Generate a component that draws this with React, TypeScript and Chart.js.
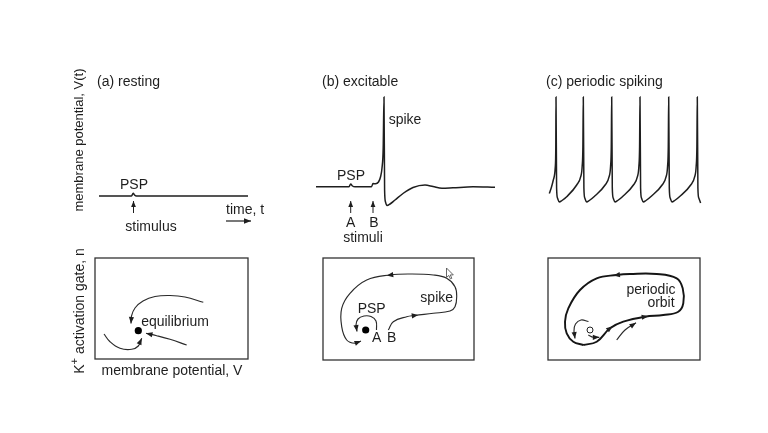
import React, { useEffect, useRef } from 'react';
import { Chart, registerables } from 'chart.js';

Chart.register(...registerables);

const W = 768;
const H = 433;
const FONT = '"Liberation Sans", Arial, Helvetica, sans-serif';
const INK = '#1e1e1e';

// ---------- top row: membrane potential traces (time in ms-like units, V in mV-like units)
const restT = [0, 32.5, 34.2, 35.5, 37.5, 149];
const restV = [-70, -70, -67.3, -69, -70, -70];
const restStimT = [34.5, 34.5];
const restStimV = [-87, -75];
const timeArrowT = [127, 152];
const timeArrowV = [-95, -95];

const exciteT = [0, 33, 34.7, 36.5, 39, 55.5, 57, 59.5, 62.5, 64.5, 66, 67.2, 68, 68.6, 69.5, 71, 74, 79, 87, 97, 109, 117, 126, 137, 157, 179];
const exciteV = [-60.7, -60.7, -58, -60, -60.7, -60.7, -57.5, -57.8, -56, -51, -42, -22, 29, -64, -76, -79.5, -78, -74, -67.5, -61.5, -59, -60.5, -62.3, -61.8, -60.8, -61.3];
const stimAT = [34.7, 34.7];
const stimBT = [57, 57];
const stimV = [-87, -75];

const spikeT = [
  1.3, 3.5, 5.3, 7.3, 7.8, 8,
  8.6, 9.5, 11.3, 14, 18.7, 28.7, 32.7, 34.2, 34.9, 35.3,
  35.9, 36.8, 38.6, 41.3, 46, 57.1, 61.1, 62.6, 63.3, 63.7,
  64.3, 65.2, 67, 69.7, 74.4, 85.4, 89.4, 90.9, 91.6, 92,
  92.6, 93.5, 95.3, 98, 102.7, 114.1, 118.1, 119.6, 120.3, 120.7,
  121.3, 122.2, 124, 126.7, 131.4, 142.7, 146.7, 148.2, 148.9, 149.3,
  149.9, 150.8, 152.6,
];
const spikeV = [
  -67.5, -61, -54, -40.7, -20, 29,
  -62, -72, -76, -74.5, -70.7, -59, -50.7, -40, -20, 29,
  -62, -72, -76, -74.5, -70.7, -59, -50.7, -40, -20, 29,
  -62, -72, -76, -74.5, -70.7, -59, -50.7, -40, -20, 29,
  -62, -72, -76, -74.5, -70.7, -59, -50.7, -40, -20, 29,
  -62, -72, -76, -74.5, -70.7, -59, -50.7, -40, -20, 29,
  -62, -72, -77,
];

// ---------- bottom row: phase planes (V horizontal, n vertical)
const eqPointV = [43.3];
const eqPointN = [28.3];
const eqUpperV = [108.3, 90, 75, 60, 48, 40, 36.5, 36];
const eqUpperN = [56.7, 62, 63.5, 62.5, 58, 51, 43, 35.5];
const eqRightV = [91.7, 75, 61.7, 51];
const eqRightN = [14, 19.7, 23.3, 25.7];
const eqLeftV = [9, 15, 25, 36.7, 43.3, 46.7];
const eqLeftN = [25, 17.3, 10.7, 9.7, 13, 20.7];

const exPointV = [42.7];
const exPointN = [30];
const spikeLoopV = [65.3, 70.3, 83.7, 92, 110.3, 127, 132, 133.7, 132, 123.7, 110.3, 87, 67, 43.7, 27, 18.7, 18.7, 23.7, 32, 38];
const spikeLoopN = [30, 38.3, 43.3, 44.5, 46.7, 49, 53.3, 63.3, 73.3, 81.7, 85, 86, 85, 80, 66.7, 51.7, 33.3, 20, 16.7, 19];
const pspLoopV = [53.5, 53, 48, 41, 35, 33, 34];
const pspLoopN = [30, 39, 43.5, 44, 41, 35, 28.5];

const unstableV = [42];
const unstableN = [30];
const orbitV = [35.3, 48.7, 62, 75.3, 97, 115.3, 130.3, 135.3, 134.7, 128.7, 108.7, 82, 68.7, 48.7, 32, 20.3, 17, 18.7, 25.3, 35.3];
const orbitN = [15, 18.3, 31.7, 38.3, 43.3, 45, 48.3, 56.7, 71.7, 81.7, 86, 86, 85, 81.7, 70, 51.7, 38.3, 26.7, 18.3, 15];
const smallArcV = [40.5, 33, 27.5, 26, 27];
const smallArcN = [38.5, 40, 36, 29, 21.5];
const outArrowV = [40.3, 45.3, 51.3];
const outArrowN = [25, 22.7, 22.7];
const lowerRightV = [68.7, 77, 88];
const lowerRightN = [20, 30, 37.3];

// ---------- helpers
const pts = (xs: number[], ys: number[]) => xs.map((x, i) => ({ x, y: ys[i] }));

const trace = (xs: number[], ys: number[], o: any = {}) => ({
  data: pts(xs, ys),
  borderColor: INK,
  borderWidth: 1.5,
  pointRadius: 0,
  cubicInterpolationMode: 'monotone',
  fill: false,
  clip: false,
  ...o,
});
const curve = (xs: number[], ys: number[], o: any = {}) => ({
  data: pts(xs, ys),
  borderColor: '#2a2a2a',
  borderWidth: 1.15,
  pointRadius: 0,
  tension: 0.4,
  fill: false,
  clip: false,
  ...o,
});
const straight = (xs: number[], ys: number[], o: any = {}) => ({
  data: pts(xs, ys),
  borderColor: INK,
  borderWidth: 1,
  pointRadius: 0,
  tension: 0,
  fill: false,
  clip: false,
  ...o,
});
const dot = (xs: number[], ys: number[], o: any = {}) => ({
  data: pts(xs, ys),
  showLine: false,
  pointRadius: 3.6,
  pointBackgroundColor: '#000',
  pointBorderColor: '#000',
  pointBorderWidth: 0,
  clip: false,
  ...o,
});

type Head = { ds: number; i: number; mid?: boolean; len?: number; half?: number };
type Txt = { t: string; x: number; y: number; align?: CanvasTextAlign; rot?: boolean; sup?: [string, string, string]; size?: number };
type Spec = {
  pad: { left: number; right: number; top: number; bottom: number };
  x: [number, number];
  y: [number, number];
  datasets: any[];
  heads?: Head[];
  texts?: Txt[];
  box?: boolean;
  cursor?: [number, number];
};

function drawHead(ctx: CanvasRenderingContext2D, x: number, y: number, ang: number, len: number, half: number, mid: boolean) {
  ctx.save();
  ctx.translate(x, y);
  ctx.rotate(ang);
  const off = mid ? len / 2 : 0;
  ctx.beginPath();
  ctx.moveTo(off, 0);
  ctx.lineTo(off - len, -half);
  ctx.lineTo(off - len, half);
  ctx.closePath();
  ctx.fillStyle = INK;
  ctx.fill();
  ctx.restore();
}

function makePlugin(spec: Spec) {
  return {
    id: 'diagram',
    afterDatasetsDraw(chart: any) {
      const ctx: CanvasRenderingContext2D = chart.ctx;
      const a = chart.chartArea;
      const px = (v: number) => chart.scales.x.getPixelForValue(v);
      const py = (v: number) => chart.scales.y.getPixelForValue(v);
      ctx.save();
      if (spec.box) {
        ctx.strokeStyle = '#333';
        ctx.lineWidth = 1.3;
        ctx.strokeRect(a.left, a.top, a.right - a.left, a.bottom - a.top);
      }
      for (const h of spec.heads || []) {
        const el = chart.getDatasetMeta(h.ds).data;
        const p = el[h.i];
        let dx = 0;
        let dy = 0;
        if (h.i === el.length - 1) {
          const q = el[h.i - 1];
          if (p.cp1x !== undefined && Math.hypot(p.x - p.cp1x, p.y - p.cp1y) > 0.5) {
            dx = p.x - p.cp1x;
            dy = p.y - p.cp1y;
          } else {
            dx = p.x - q.x;
            dy = p.y - q.y;
          }
        } else {
          if (p.cp1x !== undefined && Math.hypot(p.cp2x - p.cp1x, p.cp2y - p.cp1y) > 0.5) {
            dx = p.cp2x - p.cp1x;
            dy = p.cp2y - p.cp1y;
          } else {
            dx = el[h.i + 1].x - el[h.i - 1].x;
            dy = el[h.i + 1].y - el[h.i - 1].y;
          }
        }
        drawHead(ctx, p.x, p.y, Math.atan2(dy, dx), h.len ?? 6.5, h.half ?? 2.6, !!h.mid);
      }
      if (spec.cursor) {
        const cx = px(spec.cursor[0]);
        const cy = py(spec.cursor[1]);
        const shape = [[0, 0], [0, 9.5], [2.3, 7.4], [3.9, 10.9], [5.3, 10.3], [3.8, 6.9], [6.8, 6.9]];
        ctx.beginPath();
        shape.forEach(([sx, sy], k) => (k ? ctx.lineTo(cx + sx, cy + sy) : ctx.moveTo(cx + sx, cy + sy)));
        ctx.closePath();
        ctx.fillStyle = '#fff';
        ctx.fill();
        ctx.strokeStyle = '#555';
        ctx.lineWidth = 0.9;
        ctx.stroke();
      }
      ctx.fillStyle = INK;
      ctx.textBaseline = 'middle';
      for (const t of spec.texts || []) {
        const size = t.size ?? 14;
        ctx.font = `${size}px ${FONT}`;
        const x = px(t.x);
        const y = py(t.y);
        if (t.rot) {
          ctx.save();
          ctx.translate(x, y);
          ctx.rotate(-Math.PI / 2);
          if (t.sup) {
            const [b, s, r] = t.sup;
            ctx.font = `${size}px ${FONT}`;
            const wb = ctx.measureText(b).width;
            const wr = ctx.measureText(r).width;
            ctx.font = `${size * 0.8}px ${FONT}`;
            const ws = ctx.measureText(s).width;
            const total = wb + ws + wr;
            let cx = -total / 2;
            ctx.textAlign = 'left';
            ctx.font = `${size}px ${FONT}`;
            ctx.fillText(b, cx, 0);
            cx += wb;
            ctx.font = `${size * 0.8}px ${FONT}`;
            ctx.fillText(s, cx, -5.5);
            cx += ws;
            ctx.font = `${size}px ${FONT}`;
            ctx.fillText(r, cx, 0);
          } else {
            ctx.textAlign = 'center';
            ctx.fillText(t.t, 0, 0);
          }
          ctx.restore();
        } else {
          ctx.textAlign = t.align ?? 'center';
          ctx.fillText(t.t, x, y);
        }
      }
      ctx.restore();
    },
  };
}

// ---------- panel specs
const topY: [number, number] = [-80, 30];
const padTopRow = { top: 96, bottom: H - 206 };

const specs: Spec[] = [
  {
    pad: { left: 99, right: W - 249, ...padTopRow },
    x: [0, 150],
    y: topY,
    datasets: [
      trace(restT, restV),
      straight(restStimT, restStimV),
      straight(timeArrowT, timeArrowV, { borderWidth: 1.2 }),
    ],
    heads: [
      { ds: 1, i: 1, len: 6, half: 2.4 },
      { ds: 2, i: 1, len: 7, half: 2.8 },
    ],
    texts: [
      { t: '(a) resting', x: -2, y: 44, align: 'left' },
      { t: 'PSP', x: 35, y: -59.5 },
      { t: 'stimulus', x: 52, y: -101 },
      { t: 'time, t', x: 127, y: -84, align: 'left' },
      { t: 'membrane potential, V(t)', x: -20, y: -14, rot: true, size: 13 },
    ],
  },
  {
    pad: { left: 316, right: W - 496, ...padTopRow },
    x: [0, 180],
    y: topY,
    datasets: [
      trace(exciteT, exciteV),
      straight(stimAT, stimV),
      straight(stimBT, stimV),
    ],
    heads: [
      { ds: 1, i: 1, len: 6, half: 2.4 },
      { ds: 2, i: 1, len: 6, half: 2.4 },
    ],
    texts: [
      { t: '(b) excitable', x: 6, y: 44, align: 'left' },
      { t: 'spike', x: 89, y: 6 },
      { t: 'PSP', x: 35, y: -50.5 },
      { t: 'A', x: 34.7, y: -97 },
      { t: 'B', x: 58, y: -97 },
      { t: 'stimuli', x: 47, y: -112 },
    ],
  },
  {
    pad: { left: 548, right: W - 702, ...padTopRow },
    x: [0, 154],
    y: topY,
    datasets: [trace(spikeT, spikeV)],
    texts: [{ t: '(c) periodic spiking', x: -2, y: 44, align: 'left' }],
  },
  {
    pad: { left: 95, right: W - 248, top: 258, bottom: H - 359 },
    x: [0, 153],
    y: [0, 101],
    box: true,
    datasets: [
      curve(eqUpperV, eqUpperN),
      curve(eqRightV, eqRightN),
      curve(eqLeftV, eqLeftN),
      dot(eqPointV, eqPointN),
    ],
    heads: [
      { ds: 0, i: 7 },
      { ds: 1, i: 3 },
      { ds: 2, i: 5 },
    ],
    texts: [
      { t: 'equilibrium', x: 80, y: 37 },
      { t: 'membrane potential, V', x: 77, y: -12 },
      { t: '', x: -15, y: 48, rot: true, sup: ['K', '+', ' activation gate, n'] },
    ],
  },
  {
    pad: { left: 323, right: W - 474, top: 258, bottom: H - 360 },
    x: [0, 151],
    y: [0, 102],
    box: true,
    datasets: [
      curve(spikeLoopV, spikeLoopN),
      curve(pspLoopV, pspLoopN),
      dot(exPointV, exPointN),
    ],
    heads: [
      { ds: 0, i: 3, mid: true },
      { ds: 0, i: 12, mid: true },
      { ds: 0, i: 19 },
      { ds: 1, i: 6 },
    ],
    texts: [
      { t: 'PSP', x: 48.7, y: 50.5 },
      { t: 'A', x: 53.7, y: 21.5 },
      { t: 'B', x: 68.7, y: 21.5 },
      { t: 'spike', x: 113.7, y: 61.7 },
    ],
    cursor: [123.5, 92],
  },
  {
    pad: { left: 548, right: W - 700, top: 258, bottom: H - 360 },
    x: [0, 152],
    y: [0, 102],
    box: true,
    datasets: [
      curve(orbitV, orbitN, { borderWidth: 1.9, borderColor: '#151515' }),
      curve(smallArcV, smallArcN),
      curve(outArrowV, outArrowN),
      curve(lowerRightV, lowerRightN),
      dot(unstableV, unstableN, { pointRadius: 3, pointBackgroundColor: '#fff', pointBorderColor: '#222', pointBorderWidth: 1 }),
    ],
    heads: [
      { ds: 0, i: 2, mid: true },
      { ds: 0, i: 4, mid: true },
      { ds: 0, i: 12, mid: true },
      { ds: 1, i: 4 },
      { ds: 2, i: 2 },
      { ds: 3, i: 2 },
    ],
    texts: [
      { t: 'periodic', x: 103, y: 70 },
      { t: 'orbit', x: 113, y: 57 },
    ],
  },
];

function Panel({ spec }: { spec: Spec }) {
  const ref = useRef<HTMLCanvasElement>(null);
  useEffect(() => {
    const chart = new Chart(ref.current as HTMLCanvasElement, {
      type: 'line',
      data: { datasets: spec.datasets },
      options: {
        responsive: false,
        maintainAspectRatio: false,
        animation: false,
        devicePixelRatio: 1,
        events: [],
        layout: { padding: spec.pad },
        plugins: { legend: { display: false }, tooltip: { enabled: false } },
        scales: {
          x: { type: 'linear', display: false, min: spec.x[0], max: spec.x[1] },
          y: { type: 'linear', display: false, min: spec.y[0], max: spec.y[1] },
        },
      } as any,
      plugins: [makePlugin(spec)],
    });
    return () => chart.destroy();
  }, [spec]);
  return (
    <canvas
      ref={ref}
      width={W}
      height={H}
      style={{ position: 'absolute', left: 0, top: 0, width: W, height: H }}
    />
  );
}

export default function App() {
  return (
    <div style={{ position: 'fixed', left: 0, top: 0, width: W, height: H, background: '#fff', overflow: 'hidden' }}>
      {specs.map((s, i) => (
        <Panel key={i} spec={s} />
      ))}
    </div>
  );
}
